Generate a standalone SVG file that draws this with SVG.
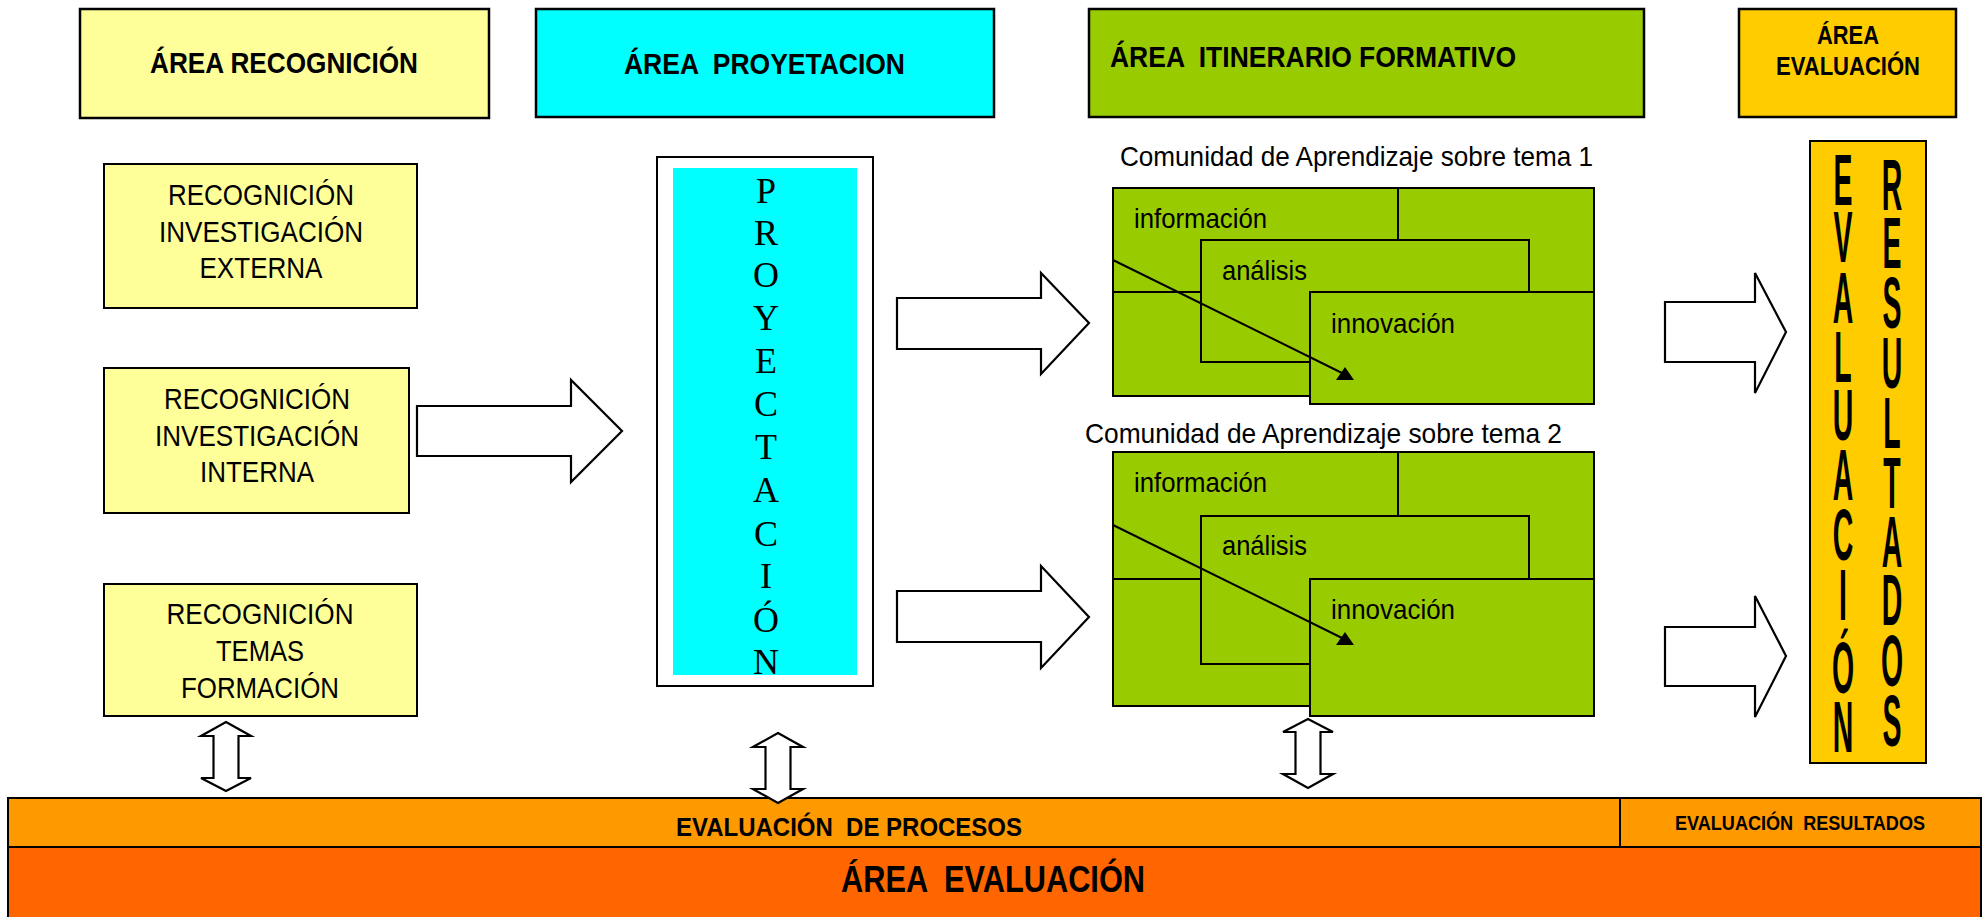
<svg xmlns="http://www.w3.org/2000/svg" width="1983" height="917" viewBox="0 0 1983 917">
<style>
.bx{stroke:#000;stroke-width:2.5}
.thin{stroke:#000;stroke-width:2}
.ba{fill:#fff;stroke:#000;stroke-width:2.2;stroke-linejoin:miter}
.hb{font-family:"Liberation Sans",Arial,sans-serif;font-weight:bold;fill:#000}
.hr{font-family:"Liberation Sans",Arial,sans-serif;fill:#000}
.sr{font-family:"Liberation Serif","Times New Roman",serif;fill:#000;font-size:36px;text-anchor:middle}
.ln{stroke:#000;stroke-width:2;fill:none}
.g{fill:#99CC00}
.vt{writing-mode:vertical-rl;text-orientation:upright;font-size:73px}
</style>
<rect width="1983" height="917" fill="#fff"/>

<g id="area-recognicion">
<rect class="bx" x="80" y="9" width="409" height="109" fill="#FFFF99"/>
<text class="hb" x="150" y="73" font-size="30" textLength="268" lengthAdjust="spacingAndGlyphs">ÁREA RECOGNICIÓN</text>
</g>
<g id="area-proyetacion">
<rect class="bx" x="536" y="9" width="458" height="108" fill="#00FFFF"/>
<text class="hb" x="624" y="74" font-size="30" textLength="281" lengthAdjust="spacingAndGlyphs" xml:space="preserve">ÁREA  PROYETACION</text>
</g>
<g id="area-itinerario">
<rect class="bx" x="1089" y="9" width="555" height="108" fill="#99CC00"/>
<text class="hb" x="1110" y="67" font-size="30" textLength="406" lengthAdjust="spacingAndGlyphs" xml:space="preserve">ÁREA  ITINERARIO FORMATIVO</text>
</g>
<g id="area-evaluacion-top">
<rect class="bx" x="1739" y="9" width="217" height="108" fill="#FFCC00"/>
<text class="hb" x="1848" y="44" font-size="25" text-anchor="middle" textLength="62" lengthAdjust="spacingAndGlyphs">ÁREA</text>
<text class="hb" x="1848" y="75" font-size="25" text-anchor="middle" textLength="144" lengthAdjust="spacingAndGlyphs">EVALUACIÓN</text>
</g>

<g id="rec-externa">
<rect class="thin" x="104" y="164" width="313" height="144" fill="#FFFF99"/>
<g class="hr" font-size="30" text-anchor="middle">
<text x="261" y="205" textLength="186" lengthAdjust="spacingAndGlyphs">RECOGNICIÓN</text>
<text x="261" y="242" textLength="204" lengthAdjust="spacingAndGlyphs">INVESTIGACIÓN</text>
<text x="261" y="278" textLength="123" lengthAdjust="spacingAndGlyphs">EXTERNA</text>
</g>
</g>
<g id="rec-interna">
<rect class="thin" x="104" y="368" width="305" height="145" fill="#FFFF99"/>
<g class="hr" font-size="30" text-anchor="middle">
<text x="257" y="409" textLength="186" lengthAdjust="spacingAndGlyphs">RECOGNICIÓN</text>
<text x="257" y="446" textLength="204" lengthAdjust="spacingAndGlyphs">INVESTIGACIÓN</text>
<text x="257" y="482" textLength="114" lengthAdjust="spacingAndGlyphs">INTERNA</text>
</g>
</g>
<g id="rec-formacion">
<rect class="thin" x="104" y="584" width="313" height="132" fill="#FFFF99"/>
<g class="hr" font-size="30" text-anchor="middle">
<text x="260" y="624" textLength="187" lengthAdjust="spacingAndGlyphs">RECOGNICIÓN</text>
<text x="260" y="661" textLength="88" lengthAdjust="spacingAndGlyphs">TEMAS</text>
<text x="260" y="698" textLength="158" lengthAdjust="spacingAndGlyphs">FORMACIÓN</text>
</g>
</g>

<g id="proyectacion">
<rect class="thin" x="657" y="157" width="216" height="529" fill="#fff"/>
<rect x="673" y="168" width="184" height="507" fill="#00FFFF"/>
<text class="sr"><tspan x="766" y="203">P</tspan><tspan x="766" y="245">R</tspan><tspan x="766" y="287">O</tspan><tspan x="766" y="330">Y</tspan><tspan x="766" y="373">E</tspan><tspan x="766" y="416">C</tspan><tspan x="766" y="459">T</tspan><tspan x="766" y="502">A</tspan><tspan x="766" y="546">C</tspan><tspan x="766" y="588">I</tspan><tspan x="766" y="632">Ó</tspan><tspan x="766" y="674">N</tspan></text>
</g>

<g id="comunidad-1">
<text class="hr" x="1120" y="166" font-size="28" textLength="473" lengthAdjust="spacingAndGlyphs">Comunidad de Aprendizaje sobre tema 1</text>
<rect class="thin g" x="1113" y="188" width="481" height="208"/>
<line class="ln" x1="1398" y1="188" x2="1398" y2="240"/>
<line class="ln" x1="1113" y1="292" x2="1594" y2="292"/>
<rect class="thin g" x="1201" y="240" width="328" height="122"/>
<rect class="thin g" x="1310" y="292" width="284" height="112"/>
<text class="hr" x="1134" y="228" font-size="28" textLength="133" lengthAdjust="spacingAndGlyphs">información</text>
<text class="hr" x="1222" y="280" font-size="28" textLength="85" lengthAdjust="spacingAndGlyphs">análisis</text>
<text class="hr" x="1331" y="333" font-size="28" textLength="124" lengthAdjust="spacingAndGlyphs">innovación</text>
<line class="ln" x1="1113" y1="260" x2="1342" y2="373"/>
<polygon points="1345,367 1336,380 1354,380" fill="#000"/>
</g>

<g id="comunidad-2">
<text class="hr" x="1085" y="443" font-size="28" textLength="477" lengthAdjust="spacingAndGlyphs">Comunidad de Aprendizaje sobre tema 2</text>
<rect class="thin g" x="1113" y="452" width="481" height="254"/>
<line class="ln" x1="1398" y1="452" x2="1398" y2="516"/>
<line class="ln" x1="1113" y1="579" x2="1594" y2="579"/>
<rect class="thin g" x="1201" y="516" width="328" height="148"/>
<rect class="thin g" x="1310" y="579" width="284" height="137"/>
<text class="hr" x="1134" y="492" font-size="28" textLength="133" lengthAdjust="spacingAndGlyphs">información</text>
<text class="hr" x="1222" y="555" font-size="28" textLength="85" lengthAdjust="spacingAndGlyphs">análisis</text>
<text class="hr" x="1331" y="619" font-size="28" textLength="124" lengthAdjust="spacingAndGlyphs">innovación</text>
<line class="ln" x1="1113" y1="525" x2="1342" y2="638"/>
<polygon points="1345,632 1336,645 1354,645" fill="#000"/>
</g>

<g id="evaluacion-resultados-col">
<rect class="thin" x="1810" y="141" width="116" height="622" fill="#FFCC00"/>
<g transform="translate(1843 0) scale(0.39 1)">
<text class="hb vt" x="0" y="139 196 257 316 374 434 494 554 627 686">EVALUACIÓN</text>
</g>
<g transform="translate(1892 0) scale(0.39 1)">
<text class="hb vt" x="0" y="144 202 262 322 382 442 501 559 620 680">RESULTADOS</text>
</g>
</g>

<g id="evaluacion-procesos">
<rect class="thin" x="8" y="798" width="1973" height="49" fill="#FF9900"/>
<line class="ln" x1="1620" y1="798" x2="1620" y2="847"/>
<text class="hb" x="676" y="836" font-size="26" textLength="346" lengthAdjust="spacingAndGlyphs" xml:space="preserve">EVALUACIÓN  DE PROCESOS</text>
<text class="hb" x="1800" y="830" font-size="20" text-anchor="middle" textLength="250" lengthAdjust="spacingAndGlyphs" xml:space="preserve">EVALUACIÓN  RESULTADOS</text>
</g>
<g id="area-evaluacion-bottom">
<rect class="thin" x="8" y="847" width="1973" height="72" fill="#FF6600"/>
<text class="hb" x="841" y="892" font-size="36" textLength="304" lengthAdjust="spacingAndGlyphs" xml:space="preserve">ÁREA  EVALUACIÓN</text>
</g>

<g id="connectors">
<polygon class="ba" points="417,406 571,406 571,380 622,431 571,482 571,456 417,456"/>
<polygon class="ba" points="897,298 1041,298 1041,273 1089,323 1041,374 1041,349 897,349"/>
<polygon class="ba" points="897,591 1041,591 1041,566 1089,617 1041,668 1041,642 897,642"/>
<polygon class="ba" points="1665,302 1755,302 1755,273 1786,332 1755,393 1755,362 1665,362"/>
<polygon class="ba" points="1665,627 1755,627 1755,596 1786,656 1755,717 1755,686 1665,686"/>
<polygon class="ba" points="226,722 251,736 238.5,736 238.5,778 251,778 226,791 201,778 213.5,778 213.5,736 201,736"/>
<polygon class="ba" points="778,733 803,747 790.5,747 790.5,789 803,789 778,803 753,789 765.5,789 765.5,747 753,747"/>
<polygon class="ba" points="1308,719 1333,732 1320.5,732 1320.5,774 1333,774 1308,788 1283,774 1295.5,774 1295.5,732 1283,732"/>
</g>
</svg>
